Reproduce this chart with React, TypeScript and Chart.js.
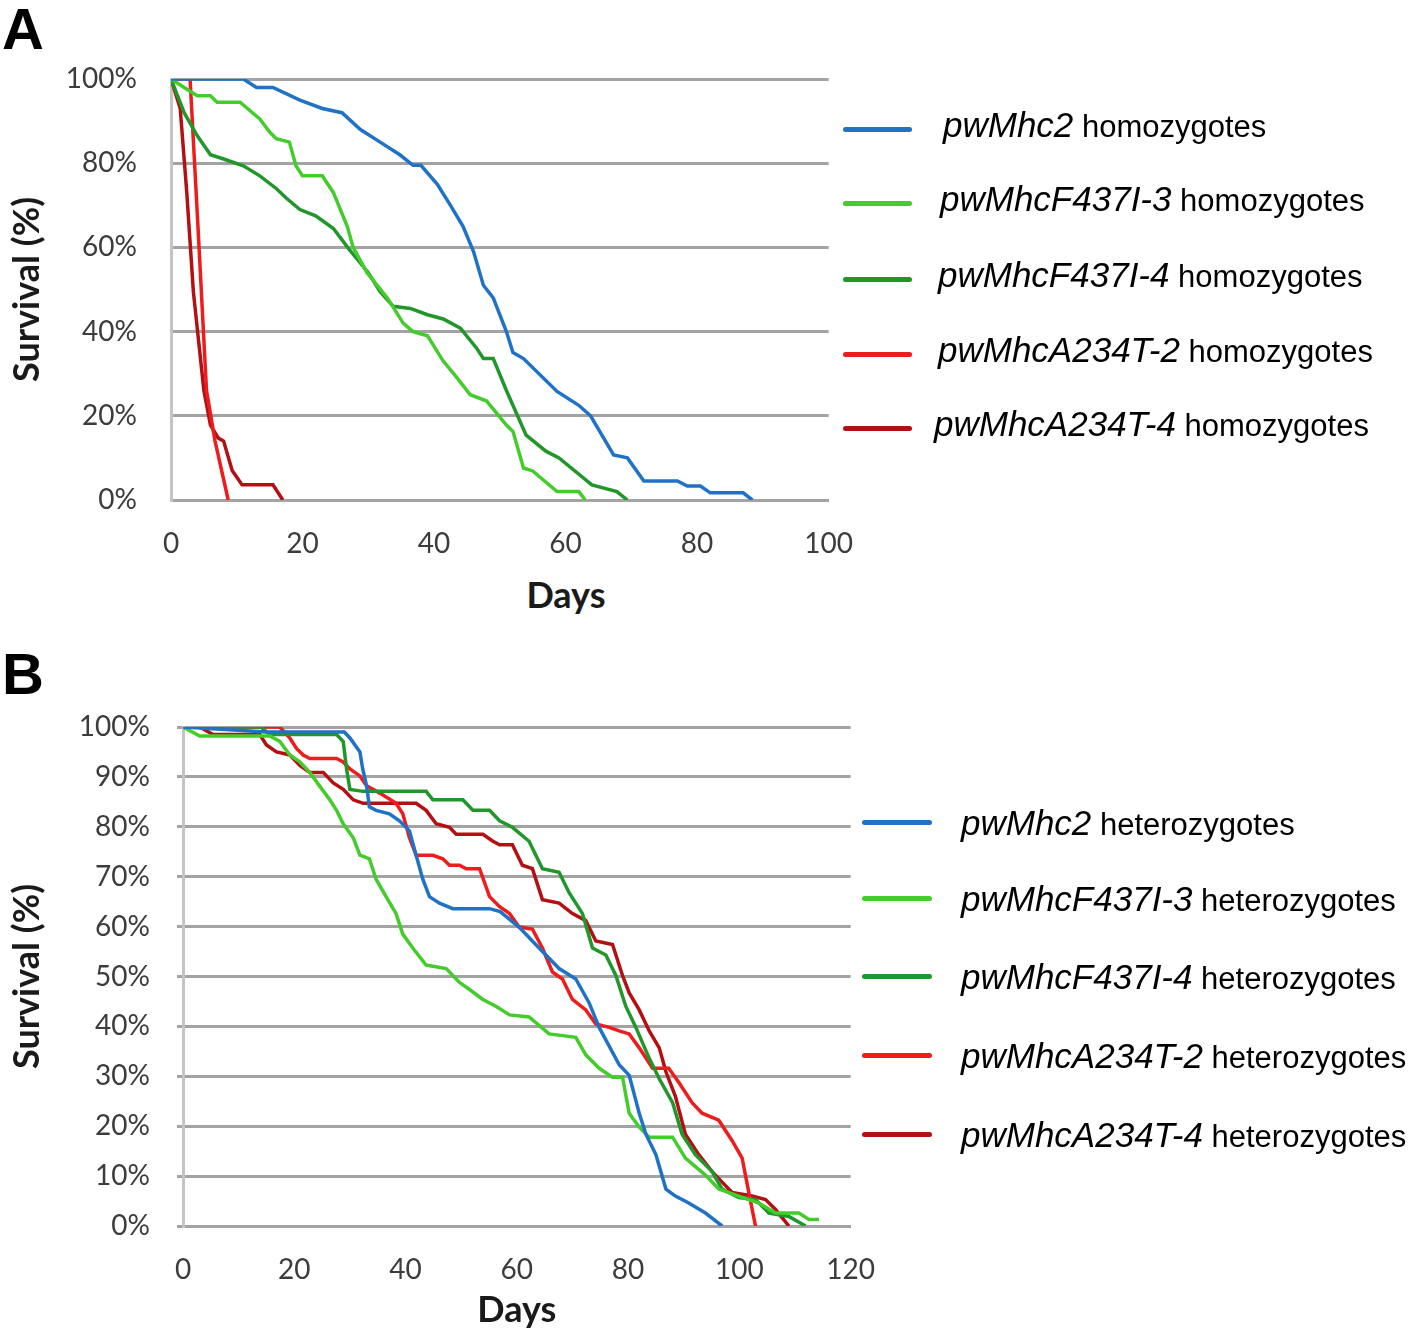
import React, { useEffect, useRef } from "react";
import { Chart, registerables } from "chart.js";

Chart.register(...registerables);

// ---------------- Panel A : homozygotes ----------------
const A_X_TICKS = [0, 20, 40, 60, 80, 100];
const A_Y_TICKS = [0, 20, 40, 60, 80, 100];

const A_MHC2_DAYS = [0, 11, 13, 15.5, 19.6, 23, 26, 28.8, 31.8, 34.8, 36.8, 38, 40.5, 42.5, 44.4, 46, 47.5, 49, 51, 52, 53.6, 58.7, 62, 63.8, 67.3, 69.4, 71.9, 77, 78.5, 80.5, 82, 87, 88.4];
const A_MHC2_SURV = [100, 100, 98, 98, 95, 93, 92, 88, 85, 82, 79.5, 79.5, 75, 70, 65, 59, 51, 48, 40, 35, 33.6, 25.8, 22.5, 20, 10.7, 10, 4.5, 4.5, 3.3, 3.3, 1.7, 1.7, 0];

const A_F437I3_DAYS = [0, 2, 4, 6, 7, 10.5, 13.5, 15, 16, 18, 19, 20, 23, 24.7, 26.8, 27.7, 29.8, 32.9, 35.3, 36.8, 39, 41.4, 43.5, 45.5, 48, 51, 52, 53.6, 55, 58.7, 62, 63];
const A_F437I3_SURV = [100, 98, 96, 96, 94.5, 94.5, 90.5, 87.4, 85.8, 85, 79.4, 77, 77, 73, 65, 60, 54, 48, 42, 40, 39, 33, 29, 25, 23.5, 17.8, 16.3, 7.6, 6.9, 2, 2, 0];

const A_F437I4_DAYS = [0, 2, 4, 6, 8, 11, 13.5, 16, 17.6, 19.6, 22, 24.7, 27, 30, 31.8, 33.8, 36.4, 39, 41.4, 44, 46.5, 47.5, 49, 51, 54, 57, 59, 64, 67.8, 69.4];
const A_F437I4_SURV = [100, 92, 86.5, 82, 81, 79.4, 77, 74, 71.6, 69, 67.5, 64.5, 59.7, 54, 49.5, 46, 45.5, 44, 43, 40.8, 36, 33.6, 33.6, 26, 15.4, 11.6, 10, 3.6, 2, 0];

const A_A234T2_DAYS = [0, 2.9, 4.1, 5.4, 6.7, 8.7];
const A_A234T2_SURV = [100, 100, 65, 26, 14, 0];

const A_A234T4_DAYS = [0, 1.4, 2.4, 3.4, 5, 6, 7.2, 8, 9.3, 10.8, 15.5, 17];
const A_A234T4_SURV = [100, 93, 73, 49.5, 26, 17.8, 14.7, 14, 7, 3.6, 3.6, 0];

// ---------------- Panel B : heterozygotes ----------------
const B_X_TICKS = [0, 20, 40, 60, 80, 100, 120];
const B_Y_TICKS = [0, 10, 20, 30, 40, 50, 60, 70, 80, 90, 100];

const B_MHC2_DAYS = [0, 15, 29, 30, 31.8, 32.3, 33, 33.5, 34.7, 37.1, 38.9, 40.7, 41.9, 43.1, 44.3, 46.1, 48.5, 55.1, 57, 60.4, 64, 67.6, 70.6, 73, 74.8, 78.4, 80.2, 82, 83.2, 85, 86.8, 88.5, 90.9, 93.9, 96.9];
const B_MHC2_SURV = [100, 99, 99, 97.8, 95, 91.6, 88.2, 84, 83.3, 82.6, 81.2, 79.2, 74.3, 69.5, 66, 64.7, 63.6, 63.6, 63, 59.9, 55.7, 51.6, 49.5, 44.7, 39.8, 32.3, 30.2, 22.6, 18.4, 14.3, 7.4, 6, 4.6, 2.6, 0];

const B_F437I3_DAYS = [0, 3, 15.6, 17.4, 19.2, 21, 22.8, 24.6, 26.4, 27.6, 28.8, 30.6, 31.8, 33.5, 34.7, 36.5, 38.3, 39.5, 41.3, 43.7, 47.3, 49.7, 51.5, 53.9, 56.3, 58.7, 62.2, 65.8, 70.6, 72.4, 74.8, 77.2, 79, 80.2, 82, 83.8, 88, 90.3, 93.9, 96.3, 99.9, 103.5, 106.5, 110.7, 112.5, 114.3];
const B_F437I3_SURV = [100, 98.2, 98.2, 97.1, 94.4, 93, 90.9, 88.1, 85.4, 83.3, 80.6, 77.8, 74.3, 73.6, 69.5, 66, 62.6, 58.5, 55.7, 52.3, 51.6, 48.8, 47.4, 45.4, 44, 42.3, 41.9, 38.5, 37.8, 34.3, 31.6, 29.8, 29.8, 22.6, 19.8, 17.8, 17.8, 13.6, 10.2, 7.4, 6, 4.6, 2.6, 2.6, 1.3, 1.3];

const B_F437I4_DAYS = [0, 14, 15.6, 27.6, 28.8, 29.4, 30, 32.4, 43.7, 44.9, 50.3, 52.1, 55.1, 56.9, 59.2, 62.2, 64.6, 67.6, 69.4, 71.8, 73.6, 76, 77.8, 79.6, 81.4, 83.8, 85.6, 88, 89.7, 92.1, 95.1, 96.9, 99.9, 102.9, 105.3, 108.9, 111.9];
const B_F437I4_SURV = [100, 100, 98.5, 98.5, 97.1, 91.6, 87.5, 87.1, 87.1, 85.4, 85.4, 83.3, 83.3, 81.2, 79.9, 77.1, 71.6, 70.9, 66.8, 62.6, 55.7, 54.3, 50.2, 44, 39.8, 33.6, 29.5, 24.7, 18.4, 14.3, 10.9, 7.4, 5.7, 5.3, 2.6, 1.9, 0];

const B_A234T2_DAYS = [0, 17.4, 19.2, 20.4, 21.6, 22.8, 27.6, 28.8, 30, 31.8, 33, 35.3, 38.3, 39.5, 40.7, 41.9, 44.9, 46.7, 47.9, 49.7, 50.9, 53.3, 55.1, 56.9, 58.7, 60.4, 62.8, 64.6, 66.4, 68.2, 70, 72.4, 74.2, 76.6, 78.4, 80.2, 82, 84.4, 87.3, 89.1, 91.5, 93.3, 96.3, 98.7, 100.5, 101.7, 102.9];
const B_A234T2_SURV = [100, 100, 97.8, 95.7, 94.4, 93.7, 93.7, 93, 91.6, 90.2, 88.2, 86.8, 84.7, 82.6, 77.8, 74.3, 74.3, 73.6, 72.3, 72.3, 71.6, 71.6, 66, 64, 62.6, 59.9, 59.5, 55.7, 50.9, 49.5, 45.4, 43.3, 40.5, 39.8, 39.1, 38.5, 35.7, 31.6, 31.6, 28.8, 24.7, 22.6, 21.2, 17.1, 13.6, 6.7, 0];

const B_A234T4_DAYS = [0, 3, 5.4, 13.8, 15, 16.8, 19.2, 21, 22.8, 25.2, 27, 28.8, 30.6, 32.4, 41.9, 43.7, 45.5, 47.9, 49.1, 53.9, 55.7, 56.9, 59.2, 61, 62.8, 64.6, 67.6, 70, 72.4, 74.2, 77.2, 79, 80.2, 82, 83.8, 85.6, 86.8, 88.5, 90.3, 92.7, 95.1, 96.9, 98.7, 102.3, 104.7, 106.5, 108.9];
const B_A234T4_SURV = [100, 100, 98.5, 98.5, 96.4, 95, 94.4, 92.3, 90.9, 90.9, 88.8, 87.5, 85.4, 84.7, 84.7, 83.3, 80.6, 79.9, 78.5, 78.5, 77.1, 76.4, 76.4, 72.3, 71.6, 65.4, 64.7, 62.6, 61.2, 57.1, 56.4, 50.2, 46.7, 43.3, 39.1, 35.7, 30.9, 26, 18.4, 14.3, 10.9, 8.8, 6.7, 6, 5.3, 3.3, 0];

// ---------------- labels & colours ----------------
const LINE_NAMES = ["pwMhc2", "pwMhcF437I-3", "pwMhcF437I-4", "pwMhcA234T-2", "pwMhcA234T-4"];
const LINE_COLORS = ["#1f72c6", "#44cc2c", "#21962b", "#ee1c1c", "#b31014"];
const A_SUFFIX = "homozygotes";
const B_SUFFIX = "heterozygotes";

const A_DAYS = [A_MHC2_DAYS, A_F437I3_DAYS, A_F437I4_DAYS, A_A234T2_DAYS, A_A234T4_DAYS];
const A_SURV = [A_MHC2_SURV, A_F437I3_SURV, A_F437I4_SURV, A_A234T2_SURV, A_A234T4_SURV];
const B_DAYS = [B_MHC2_DAYS, B_F437I3_DAYS, B_F437I4_DAYS, B_A234T2_DAYS, B_A234T4_DAYS];
const B_SURV = [B_MHC2_SURV, B_F437I3_SURV, B_F437I4_SURV, B_A234T2_SURV, B_A234T4_SURV];

const TICK_FONT = "Lato, 'Open Sans', sans-serif";
const LEGEND_FONT = "'Liberation Sans', Arial, sans-serif";
const GRID_COLOR = "#a3a3a3";
const AXIS_COLOR = "#c4c4c4";
const TICK_COLOR = "#3c3c3c";
const TITLE_COLOR = "#1a1a1a";

type Panel = {
  days: number[][];
  surv: number[][];
  xTicks: number[];
  yTicks: number[];
  suffix: string;
  padTop: number;
  padRight: number;
  yAxisWidth: number;
  xAxisHeight: number;
  yTickLen: number;
  yTickPad: number;
  xTickPad: number;
  xTitle: boolean;
};

function makeConfig(p: Panel): any {
  const datasets = p.days.map((days, i) => ({
    label: LINE_NAMES[i] + " " + p.suffix,
    data: days.map((d, j) => ({ x: d, y: p.surv[i][j] })),
    borderColor: LINE_COLORS[i],
    backgroundColor: LINE_COLORS[i],
    borderWidth: 3.5,
    pointRadius: 0,
    tension: 0,
    fill: false,
  }));
  return {
    type: "line",
    data: { datasets },
    options: {
      responsive: false,
      animation: false,
      events: [],
      layout: { padding: { top: p.padTop, right: p.padRight, left: 0, bottom: 0 } },
      plugins: { legend: { display: false }, tooltip: { enabled: false } },
      scales: {
        x: {
          type: "linear",
          min: p.xTicks[0],
          max: p.xTicks[p.xTicks.length - 1],
          afterBuildTicks: (s: any) => {
            s.ticks = p.xTicks.map((v) => ({ value: v }));
          },
          ticks: {
            font: { family: TICK_FONT, size: 28 },
            color: TICK_COLOR,
            padding: p.xTickPad,
            maxRotation: 0,
            autoSkip: false,
          },
          grid: { display: false, drawTicks: false },
          border: { display: true, color: GRID_COLOR, width: 3 },
          title: {
            display: p.xTitle,
            text: "Days",
            color: TITLE_COLOR,
            font: { family: TICK_FONT, size: 36, weight: "bold" },
            padding: { top: 0, bottom: 5 },
          },
          afterFit: (s: any) => {
            s.height = p.xAxisHeight;
          },
        },
        y: {
          type: "linear",
          min: p.yTicks[0],
          max: p.yTicks[p.yTicks.length - 1],
          afterBuildTicks: (s: any) => {
            s.ticks = p.yTicks.map((v) => ({ value: v }));
          },
          ticks: {
            font: { family: TICK_FONT, size: 28 },
            color: TICK_COLOR,
            padding: p.yTickPad,
            autoSkip: false,
            callback: (v: any) => v + "%",
          },
          grid: {
            color: GRID_COLOR,
            lineWidth: 3,
            drawTicks: p.yTickLen > 0,
            tickLength: p.yTickLen,
          },
          border: { display: true, color: AXIS_COLOR, width: 3 },
          title: {
            display: true,
            text: "Survival (%)",
            color: TITLE_COLOR,
            font: { family: TICK_FONT, size: 36, weight: "bold" },
            padding: { top: 6, bottom: 0 },
          },
          afterFit: (s: any) => {
            s.width = p.yAxisWidth;
          },
        },
      },
    },
  };
}

function ChartCanvas({ config, left, top, width, height }: { config: any; left: number; top: number; width: number; height: number }) {
  const ref = useRef<HTMLCanvasElement>(null);
  useEffect(() => {
    if (!ref.current) return;
    const chart = new Chart(ref.current, config);
    return () => chart.destroy();
  }, []);
  return (
    <canvas
      ref={ref}
      width={width}
      height={height}
      style={{ position: "absolute", left, top, width, height, display: "block" }}
    />
  );
}

function Legend({ suffix, lineLeft, lineWidth, textLeft, rowY, baselineOffset }: { suffix: string; lineLeft: number; lineWidth: number; textLeft: number[]; rowY: number[]; baselineOffset: number }) {
  return (
    <>
      {LINE_NAMES.map((name, i) => (
        <React.Fragment key={name}>
          <div
            style={{
              position: "absolute",
              left: lineLeft,
              top: rowY[i] - 2.5,
              width: lineWidth,
              height: 5,
              borderRadius: 3,
              background: LINE_COLORS[i],
            }}
          />
          <div
            style={{
              position: "absolute",
              left: textLeft[i],
              top: rowY[i] + baselineOffset - 32,
              fontFamily: LEGEND_FONT,
              fontSize: 35,
              lineHeight: "40px",
              whiteSpace: "nowrap",
              color: "#000",
            }}
          >
            <i>{name}</i>
            <span style={{ fontSize: 31 }}> {suffix}</span>
          </div>
        </React.Fragment>
      ))}
    </>
  );
}

const PANEL_A: Panel = {
  days: A_DAYS,
  surv: A_SURV,
  xTicks: A_X_TICKS,
  yTicks: A_Y_TICKS,
  suffix: A_SUFFIX,
  padTop: 79,
  padRight: 0,
  yAxisWidth: 171,
  xAxisHeight: 60,
  yTickLen: 0,
  yTickPad: 34,
  xTickPad: 27,
  xTitle: false,
};

const PANEL_B: Panel = {
  days: B_DAYS,
  surv: B_SURV,
  xTicks: B_X_TICKS,
  yTicks: B_Y_TICKS,
  suffix: B_SUFFIX,
  padTop: 87,
  padRight: 0,
  yAxisWidth: 183,
  xAxisHeight: 111,
  yTickLen: 6,
  yTickPad: 27,
  xTickPad: 27,
  xTitle: true,
};

export default function App() {
  const cfgA = makeConfig(PANEL_A);
  const cfgB = makeConfig(PANEL_B);
  const letter: React.CSSProperties = {
    position: "absolute",
    left: 2,
    fontFamily: LEGEND_FONT,
    fontWeight: "bold",
    fontSize: 58,
    lineHeight: "58px",
    color: "#000",
  };
  return (
    <div style={{ position: "absolute", left: 0, top: 0, width: 1418, height: 1337, background: "#fff", overflow: "hidden" }}>
      <ChartCanvas config={cfgA} left={0} top={0} width={880} height={560} />
      <ChartCanvas config={cfgB} left={0} top={640} width={902} height={697} />
      <div style={{ ...letter, top: 0 }}>A</div>
      <div style={{ ...letter, top: 645 }}>B</div>
      <div
        style={{
          position: "absolute",
          left: 566,
          top: 576,
          transform: "translateX(-50%)",
          fontFamily: TICK_FONT,
          fontWeight: "bold",
          fontSize: 36,
          lineHeight: "36px",
          color: TITLE_COLOR,
        }}
      >
        Days
      </div>
      <Legend
        suffix={A_SUFFIX}
        lineLeft={843}
        lineWidth={69}
        textLeft={[943, 940, 938, 938, 934]}
        rowY={[129, 203, 279, 354, 428]}
        baselineOffset={8}
      />
      <Legend
        suffix={B_SUFFIX}
        lineLeft={862}
        lineWidth={70}
        textLeft={[961, 961, 961, 961, 961]}
        rowY={[822, 898, 976, 1055, 1134]}
        baselineOffset={13}
      />
    </div>
  );
}
